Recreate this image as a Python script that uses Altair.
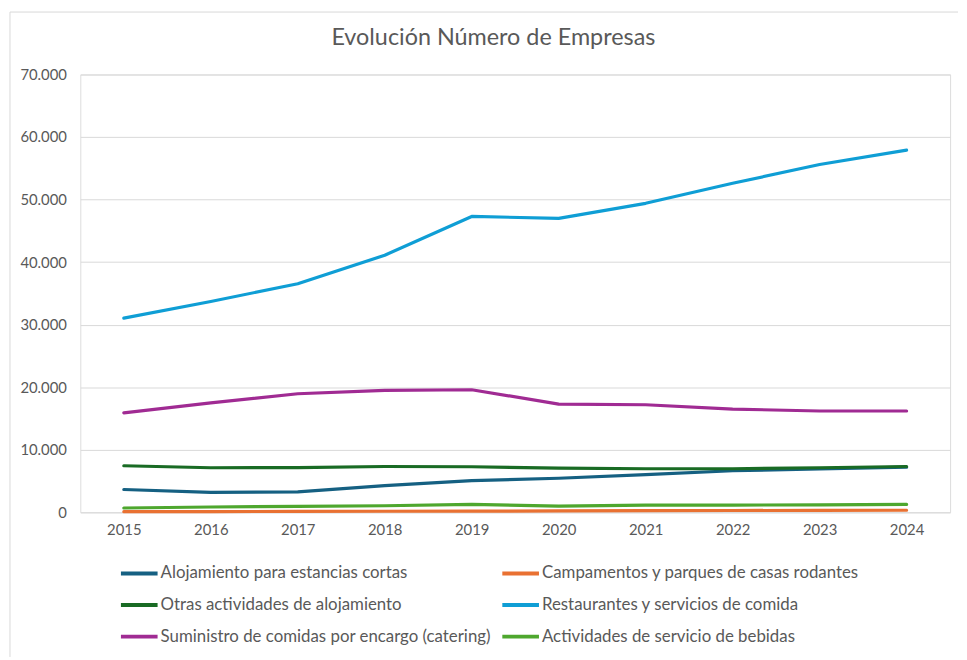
import altair as alt
import pandas as pd

years = [2015, 2016, 2017, 2018, 2019, 2020, 2021, 2022, 2023, 2024]
series_names = [
    "Alojamiento para estancias cortas",
    "Campamentos y parques de casas rodantes",
    "Otras actividades de alojamiento",
    "Restaurantes y servicios de comida",
    "Suministro de comidas por encargo (catering)",
    "Actividades de servicio de bebidas",
]
alojamiento = [3650, 3200, 3270, 4280, 5070, 5440, 6020, 6650, 6920, 7230]
campamentos = [100, 120, 140, 170, 190, 220, 260, 290, 310, 330]
otras = [7440, 7130, 7150, 7330, 7280, 7070, 6970, 6970, 7130, 7330]
restaurantes = [31050, 33700, 36550, 41100, 47300, 47000, 49400, 52600, 55600, 57900]
catering = [15900, 17500, 18950, 19500, 19600, 17300, 17200, 16500, 16200, 16200]
bebidas = [690, 850, 950, 1050, 1270, 1000, 1160, 1160, 1200, 1270]
colors = ["#156082", "#E97132", "#196B24", "#0F9ED5", "#A02B93", "#4EA72E"]
y_ticks = [0, 10000, 20000, 30000, 40000, 50000, 60000, 70000]

all_values = [alojamiento, campamentos, otras, restaurantes, catering, bebidas]
rows = []
for name, vals in zip(series_names, all_values):
    for yr, v in zip(years, vals):
        rows.append({"Año": str(yr), "Serie": name, "Empresas": v})
df = pd.DataFrame(rows)

FONT = "Lato"
GREY = "#595959"

lines = alt.Chart(df).mark_line(strokeWidth=3.2, strokeCap="round", strokeJoin="round").encode(
    x=alt.X("Año:O", title=None,
            scale=alt.Scale(type="point", padding=0.5),
            axis=alt.Axis(labelAngle=0, ticks=False, domain=False, grid=False,
                          labelFont=FONT, labelFontSize=15, labelColor=GREY, labelPadding=10)),
    y=alt.Y("Empresas:Q", title=None,
            scale=alt.Scale(domain=[0, 70000], nice=False),
            axis=alt.Axis(values=y_ticks, ticks=False, domain=False, gridColor="#D9D9D9",
                          gridWidth=1, labelFont=FONT, labelFontSize=15, labelColor=GREY,
                          labelPadding=14,
                          labelExpr="replace(format(datum.value, ','), ',', '.')")),
    color=alt.Color("Serie:N",
                    scale=alt.Scale(domain=series_names, range=colors),
                    sort=series_names,
                    legend=alt.Legend(title=None, orient="none", legendX=39, legendY=483,
                                      columns=2, direction="horizontal",
                                      symbolType="stroke", symbolSize=1369,
                                      symbolStrokeWidth=4, labelOffset=1,
                                      columnPadding=3, rowPadding=3, padding=0,
                                      labelFont=FONT, labelFontSize=17, labelColor=GREY,
                                      labelLimit=450)),
    order=alt.Order("Serie:N", sort="ascending"),
)

border_data = alt.Data(values=[{"k": 1}])
left_border = alt.Chart(border_data).mark_rule(color="#D9D9D9", strokeWidth=1).encode(
    x=alt.value(-71), y=alt.value(-63), y2=alt.value(588)
)
top_border = alt.Chart(border_data).mark_rule(color="#D9D9D9", strokeWidth=1).encode(
    x=alt.value(-71), x2=alt.value(886), y=alt.value(-63)
)

chart = alt.layer(left_border, top_border, lines).properties(
    width=878,
    height=442,
    padding={"left": 1, "top": 0, "right": 0, "bottom": 0},
    title=alt.TitleParams("Evolución Número de Empresas", font=FONT, fontSize=23.6,
                          fontWeight="normal", color=GREY, anchor="middle", dx=-22, offset=-38),
).configure_view(stroke=None).configure(background="white")

chart.save("out.html", embed_options={"renderer": "svg", "actions": False})
